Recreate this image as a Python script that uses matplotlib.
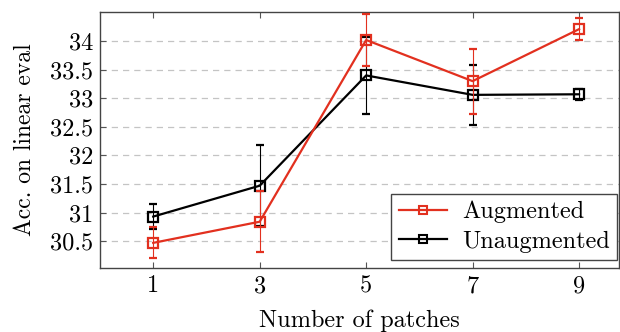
import matplotlib.pyplot as plt
from matplotlib.lines import Line2D

plt.rcParams["font.family"] = "serif"
plt.rcParams["font.serif"] = ["cmr10"]
plt.rcParams["mathtext.fontset"] = "cm"
plt.rcParams["axes.formatter.use_mathtext"] = True

patches = [1, 3, 5, 7, 9]
aug_mean = [30.47, 30.84, 34.02, 33.30, 34.21]
aug_err = [0.27, 0.53, 0.45, 0.57, 0.19]
unaug_mean = [30.93, 31.47, 33.40, 33.06, 33.07]
unaug_err = [0.22, 0.71, 0.68, 0.53, 0.10]
yticks = [30.5, 31, 31.5, 32, 32.5, 33, 33.5, 34]

red = "#e2301f"

fig = plt.figure(figsize=(6.2, 3.32), dpi=100)
ax = fig.add_axes([100 / 620, 1 - 268 / 332, 519 / 620, 256 / 332])

ax.errorbar(patches, unaug_mean, yerr=unaug_err, color="black", lw=1.6,
            marker="s", ms=7, mfc="none", mew=1.6, elinewidth=0.8,
            capsize=3, capthick=0.8, zorder=3)
ax.errorbar(patches, aug_mean, yerr=aug_err, color=red, lw=1.6,
            marker="s", ms=7, mfc="none", mew=1.6, elinewidth=0.8,
            capsize=3, capthick=0.8, zorder=4)

ax.set_xlim(0, 9.75)
ax.set_ylim(30.03, 34.51)
ax.set_xticks(patches)
ax.set_xticklabels([str(p) for p in patches])
ax.set_yticks(yticks)
ax.set_yticklabels([f"{v:g}" for v in yticks])
ax.tick_params(direction="in", top=True, right=False, labelsize=17.5,
               color="#555555", length=4, pad=5)
ax.grid(axis="y", color="#c4c4c4", linestyle=(0, (5, 4)), lw=0.9)
ax.set_axisbelow(True)
for s in ax.spines.values():
    s.set_color("#444444")
    s.set_linewidth(1.0)

ax.set_xlabel("Number of patches", fontsize=17.5, labelpad=9)
ax.set_ylabel("Acc. on linear eval", fontsize=17, labelpad=10)

handles = [
    Line2D([], [], color=red, lw=1.6, marker="s", ms=5.5, mfc="none", mew=1.5),
    Line2D([], [], color="black", lw=1.6, marker="s", ms=5.5, mfc="none", mew=1.5),
]
leg = ax.legend(handles, ["Augmented", "Unaugmented"], loc="lower right",
                bbox_to_anchor=(1 - 2 / 519, 8 / 256), borderaxespad=0,
                fontsize=17.5, fancybox=False, edgecolor="#444444",
                framealpha=1, handlelength=2.0, handletextpad=0.6,
                labelspacing=0.3, borderpad=0.3)
leg.get_frame().set_linewidth(1.0)

fig.savefig("out.png", dpi=100)
